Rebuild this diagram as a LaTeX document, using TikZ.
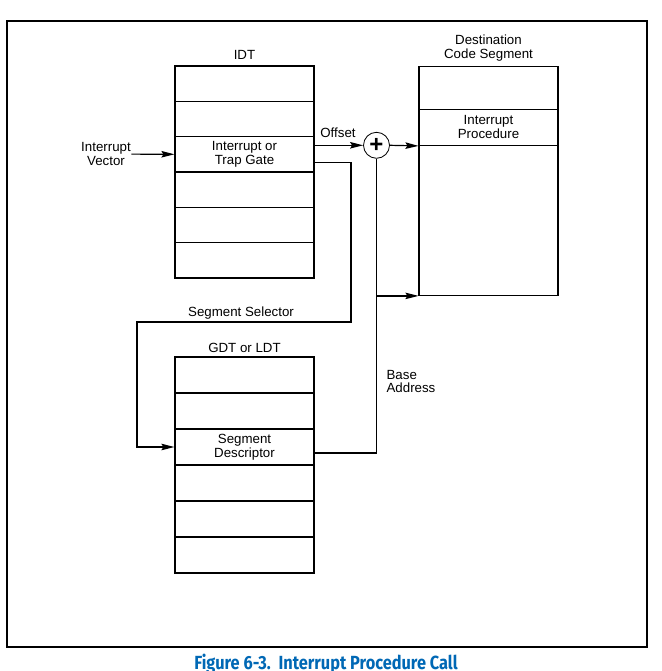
\documentclass[tikz,border=0pt]{standalone}
\usepackage{fontspec}
\setmainfont{Liberation Sans}
\newfontfamily\capfont[FakeStretch=0.86]{Fira Sans}
\usetikzlibrary{arrows.meta}
\definecolor{figblue}{RGB}{0,104,181}

\begin{document}
\begin{tikzpicture}[
    x=1pt, y=-1pt,
    line width=1.2pt,
    font=\fontsize{13.3}{13.8}\selectfont,
    >={Stealth[length=13pt,width=6.5pt,inset=2pt]},
    slot/.style={
        rectangle, draw=black, inner sep=0pt, align=center,
        minimum width=139pt, minimum height=35.3pt,
      },
    gslot/.style={slot, minimum height=36pt},
    lbl/.style={inner sep=0pt, align=center},
  ]
  \useasboundingbox (0,0) rectangle (661,671);
  \draw[line width=2pt] (7,21) rectangle (647,647);

  % IDT
  \node[lbl] (idtname) at (244.5,55) {IDT};
  \node[slot] (idt1) at (244.5,83.7) {};
  \node[slot] (idt2) at (244.5,119.0) {};
  \node[slot] (idt3) at (244.5,154.3) {Interrupt or\\Trap Gate};
  \node[slot] (idt4) at (244.5,189.7) {};
  \node[slot] (idt5) at (244.5,225.0) {};
  \node[slot] (idt6) at (244.5,260.3) {};

  % GDT or LDT
  \node[lbl] (gdtname) at (244.5,348) {GDT or LDT};
  \node[gslot] (gdt1) at (244.5,375) {};
  \node[gslot] (gdt2) at (244.5,411) {};
  \node[gslot] (gdt3) at (244.5,447) {Segment\\Descriptor};
  \node[gslot] (gdt4) at (244.5,483) {};
  \node[gslot] (gdt5) at (244.5,519) {};
  \node[gslot] (gdt6) at (244.5,555) {};

  % destination
  \node[lbl] (dstname) at (488.5,48) {Destination\\Code Segment};
  \node[slot, minimum height=43pt] (dst1) at (488.5,87.8) {};
  \node[slot, minimum height=36pt] (dst2) at (488.5,127.3) {Interrupt\\Procedure};
  \node[slot, minimum height=150pt] (dst3) at (488.5,220.3) {};

  \node[circle, draw, line width=0.8pt, minimum size=26pt, inner sep=0pt,
    font=\fontsize{24}{24}\bfseries] (plus) at (376.5,145.3) {+};

  \node[lbl] (vector) at (106,154) {Interrupt\\Vector};
  \node[lbl] (offset) at (338,133) {Offset};
  \node[lbl] (selname) at (241,313) {Segment Selector};
  \node[lbl, align=left, anchor=west] (base) at (386,381.5) {Base\\Address};

  \coordinate (selR) at (351,322);
  \coordinate (selL) at (137,322);

  \draw[->] (vector) -- (idt3.west);
  \draw[->] (idt3.east |- plus) -- (plus.west);
  \draw[->] (plus.east) -- (dst2.south west);
  \draw[->] ([yshift=-8pt]idt3.east) -| (selR) -- (selL) |- (gdt3.west);
  \draw ([yshift=-6pt]gdt3.east) -| (plus.south);
  \draw[->] (plus |- dst3.south) -- (dst3.south west);

  \node[lbl, anchor=base, text=figblue,
    font=\capfont\bfseries\fontsize{19}{19}\selectfont]
    (caption) at (326,669) {Figure 6-3.\ \ Interrupt Procedure Call};
\end{tikzpicture}
\end{document}
